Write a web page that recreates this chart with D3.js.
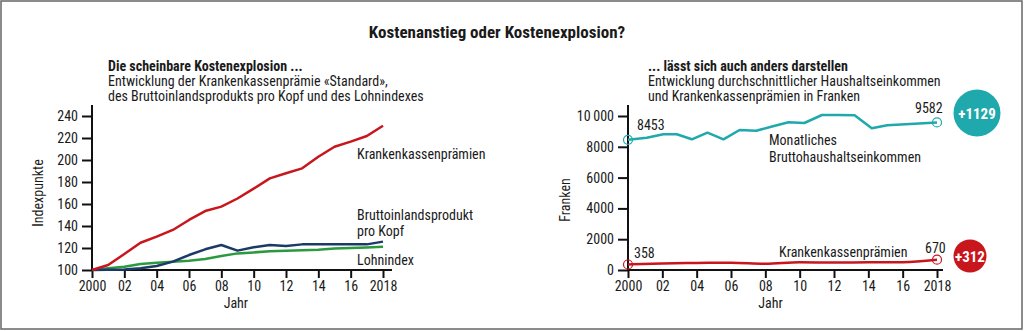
<!DOCTYPE html>
<html>
<head>
<meta charset="utf-8">
<script src="https://cdn.jsdelivr.net/npm/d3@7"></script>
<style>
  html, body { margin: 0; padding: 0; background: #fff; }
  svg { display: block; }
  text { font-family: "Liberation Sans Narrow", "Roboto Condensed", Roboto, sans-serif; fill: #1a1a1a; }
</style>
</head>
<body>
<svg id="chart" width="1024" height="331"></svg>
<script>
// ---- Left panel: index values (2000 = 100) ----
const years = d3.range(2000, 2019);
const premiumIndex = [100, 104.5, 114.5, 124.8, 130.3, 136.4, 145.5, 153.6, 157.6, 165, 174, 183.3, 187.9, 192.4, 203, 212, 216.7, 221.8, 231.2];
const gdpIndex     = [100, 100.3, 100.5, 101.5, 103.6, 107.6, 113.6, 118.8, 122.7, 117.6, 120.6, 122.7, 121.8, 123.3, 123.3, 123.3, 123.3, 123.3, 125.8];
const wageIndex    = [100, 101.5, 103, 105.5, 106.7, 107.6, 108.5, 110, 112.7, 115.1, 116, 117, 117.5, 118, 118.5, 119.5, 120, 120.5, 121.2];
const indexTicks = [100, 120, 140, 160, 180, 200, 220, 240];

// ---- Right panel: francs per month ----
const incomeYears  = [2000, 2001.09, 2002.06, 2002.84, 2003.72, 2004.63, 2005.56, 2006.5, 2007.47, 2008.5, 2009.35, 2010.27, 2011.3, 2012.2, 2013.2, 2014.2, 2015.1, 2018];
const incomeValues = [8453, 8590, 8812, 8812, 8487, 8916, 8487, 9091, 9045, 9350, 9590, 9545, 10065, 10065, 10045, 9200, 9395, 9582];
const premiumYears  = [2000, 2002, 2004, 2006, 2008, 2010, 2012, 2014, 2016, 2018];
const premiumValues = [358, 430, 460, 470, 400, 500, 490, 500, 510, 670];
const francTicks = [0, 2000, 4000, 6000, 8000, 10000];

const yearTicks = [2000, 2002, 2004, 2006, 2008, 2010, 2012, 2014, 2016, 2018];
const yearLabel = y => (y === 2000 || y === 2018) ? String(y) : String(y).slice(2);

const colors = { premium: "#c8161d", gdp: "#1c3a68", wage: "#2b9a3f", income: "#1fa9ad" };

const svg = d3.select("#chart");

// frame
svg.append("rect").attr("x", 1).attr("y", 1).attr("width", 1021).attr("height", 328)
  .attr("fill", "none").attr("stroke", "#666").attr("stroke-width", 1.5);

// main title
svg.append("text").attr("x", 497).attr("y", 38).attr("text-anchor", "middle")
  .attr("font-size", 17).attr("font-weight", 700).text("Kostenanstieg oder Kostenexplosion?");

function heading(x, y, lines) {
  const g = svg.append("g");
  lines.forEach((t, i) => {
    g.append("text").attr("x", x).attr("y", y + i * 15)
      .attr("font-size", 14).attr("font-weight", i === 0 ? 700 : 400).text(t);
  });
}
heading(108, 71, ["Die scheinbare Kostenexplosion ...",
  "Entwicklung der Krankenkassenprämie «Standard»,",
  "des Bruttoinlandsprodukts pro Kopf und des Lohnindexes"]);
heading(648, 71, ["... lässt sich auch anders darstellen",
  "Entwicklung durchschnittlicher Haushaltseinkommen",
  "und Krankenkassenprämien in Franken"]);

function styleAxis(g) {
  g.selectAll("path.domain").attr("stroke", "#111").attr("stroke-width", 2);
  g.selectAll(".tick line").attr("stroke", "#111").attr("stroke-width", 2);
  g.selectAll(".tick text").attr("font-size", 14).attr("fill", "#1a1a1a")
    .style("font-family", "\"Liberation Sans Narrow\", \"Roboto Condensed\", Roboto, sans-serif");
}

// ---------- Left chart ----------
const xL = d3.scaleLinear().domain([2000, 2018]).range([92, 383]);
const yL = d3.scaleLinear().domain([100, 240]).range([270, 116]);

const gxL = svg.append("g").attr("transform", "translate(0,270)")
  .call(d3.axisBottom(xL).tickValues(yearTicks).tickFormat(yearLabel).tickSizeOuter(0).tickSize(8).tickPadding(3));
gxL.select("path.domain").attr("d", `M${xL(2000)},0H392`);
styleAxis(gxL);

const gyL = svg.append("g").attr("transform", "translate(92,0)")
  .call(d3.axisLeft(yL).tickValues(indexTicks).tickSizeOuter(0).tickSize(10).tickPadding(4));
gyL.select("path.domain").attr("d", `M0,105V270`);
styleAxis(gyL);

const lineL = d3.line().x((d, i) => xL(years[i])).y(d => yL(d));
[[wageIndex, colors.wage], [gdpIndex, colors.gdp], [premiumIndex, colors.premium]].forEach(([vals, c]) => {
  svg.append("path").attr("d", lineL(vals)).attr("fill", "none")
    .attr("stroke", c).attr("stroke-width", 2.5).attr("stroke-linejoin", "round");
});

svg.append("text").attr("transform", "translate(43,193) rotate(-90)").attr("text-anchor", "middle")
  .attr("font-size", 14).text("Indexpunkte");
svg.append("text").attr("x", xL(2008.9)).attr("y", 308).attr("text-anchor", "middle")
  .attr("font-size", 14).text("Jahr");

const labelL = (x, y, t) => svg.append("text").attr("x", x).attr("y", y).attr("font-size", 14).text(t);
labelL(357, 159, "Krankenkassenprämien");
labelL(357, 220, "Bruttoinlandsprodukt");
labelL(357, 236, "pro Kopf");
labelL(357, 265, "Lohnindex");

// ---------- Right chart ----------
const xR = d3.scaleLinear().domain([2000, 2018]).range([628, 937]);
const yR = d3.scaleLinear().domain([0, 10000]).range([270, 116]);

const gxR = svg.append("g").attr("transform", "translate(0,270)")
  .call(d3.axisBottom(xR).tickValues(yearTicks).tickFormat(yearLabel).tickSizeOuter(0).tickSize(8).tickPadding(3));
gxR.select("path.domain").attr("d", `M${xR(2000)},0H943`);
styleAxis(gxR);

const gyR = svg.append("g").attr("transform", "translate(628,0)")
  .call(d3.axisLeft(yR).tickValues(francTicks)
    .tickFormat(v => v >= 10000 ? String(v).replace(/(\d+)(\d{3})$/, "$1\u2009$2") : String(v))
    .tickSizeOuter(0).tickSize(10).tickPadding(4));
gyR.select("path.domain").attr("d", `M0,105V270`);
styleAxis(gyR);

const lineR = d3.line().x(d => xR(d[0])).y(d => yR(d[1]));
const incomePts = incomeYears.map((y, i) => [y, incomeValues[i]]);
const premiumPts = premiumYears.map((y, i) => [y, premiumValues[i]]);
svg.append("path").attr("d", lineR(incomePts)).attr("fill", "none")
  .attr("stroke", colors.income).attr("stroke-width", 2.5).attr("stroke-linejoin", "round");
svg.append("path").attr("d", lineR.curve(d3.curveMonotoneX)(premiumPts)).attr("fill", "none")
  .attr("stroke", colors.premium).attr("stroke-width", 2.5);

// end markers
[[incomePts, colors.income], [premiumPts, colors.premium]].forEach(([pts, c]) => {
  [pts[0], pts[pts.length - 1]].forEach(p => {
    svg.append("circle").attr("cx", xR(p[0])).attr("cy", yR(p[1])).attr("r", 4.5)
      .attr("fill", "none").attr("stroke", c).attr("stroke-width", 1.2);
  });
});

const valLabel = (x, y, t) => svg.append("text").attr("x", x).attr("y", y).attr("font-size", 14).text(t);
valLabel(637, 130, d3.format("d")(incomeValues[0]));
valLabel(915, 113, d3.format("d")(incomeValues[incomeValues.length - 1]));
valLabel(634, 258, d3.format("d")(premiumValues[0]));
valLabel(925, 253, d3.format("d")(premiumValues[premiumValues.length - 1]));

svg.append("text").attr("x", 769).attr("y", 145).attr("font-size", 14).text("Monatliches");
svg.append("text").attr("x", 769).attr("y", 162).attr("font-size", 14).text("Bruttohaushaltseinkommen");
svg.append("text").attr("x", 779).attr("y", 257).attr("font-size", 14).text("Krankenkassenprämien");

svg.append("text").attr("transform", "translate(570,200) rotate(-90)").attr("text-anchor", "middle")
  .attr("font-size", 14).text("Franken");
svg.append("text").attr("x", xR(2008.3)).attr("y", 308).attr("text-anchor", "middle")
  .attr("font-size", 14).text("Jahr");

// change badges
const incomeDiff = incomeValues[incomeValues.length - 1] - incomeValues[0];
const premiumDiff = premiumValues[premiumValues.length - 1] - premiumValues[0];
svg.append("circle").attr("cx", 977).attr("cy", 113).attr("r", 23.5).attr("fill", colors.income);
svg.append("text").attr("x", 977).attr("y", 118.5).attr("text-anchor", "middle")
  .attr("font-size", 15).attr("font-weight", 700).style("fill", "#fff").text("+" + incomeDiff);
svg.append("circle").attr("cx", 970).attr("cy", 256).attr("r", 16.5).attr("fill", colors.premium);
svg.append("text").attr("x", 970).attr("y", 261.5).attr("text-anchor", "middle")
  .attr("font-size", 15).attr("font-weight", 700).style("fill", "#fff").text("+" + premiumDiff);
</script>
</body>
</html>
